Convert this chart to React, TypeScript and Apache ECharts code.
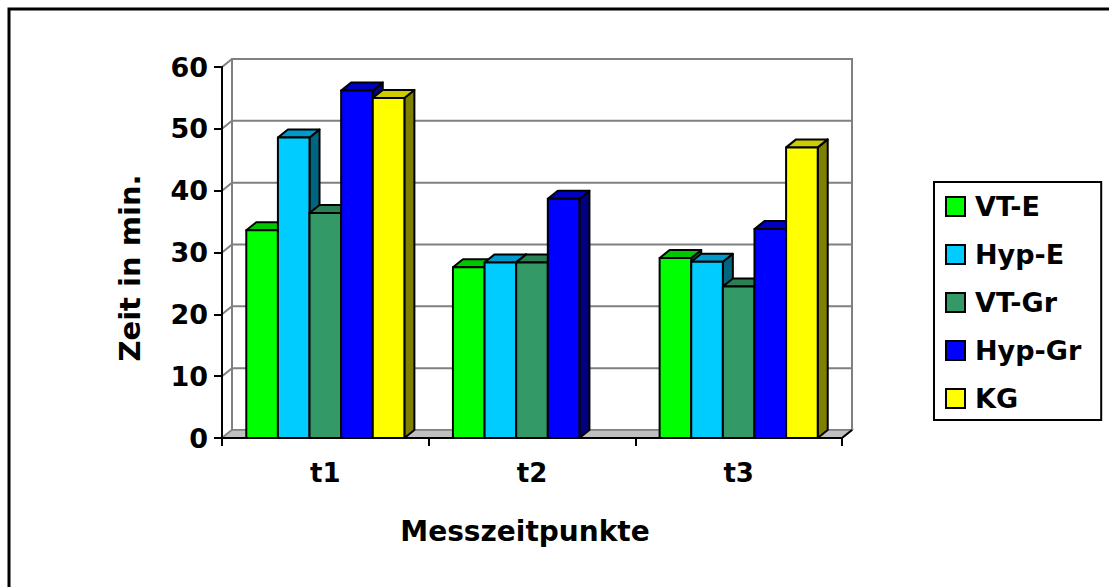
import React, { useEffect, useRef } from "react";
import * as echarts from "echarts";

// Measurement times
const categories = ["t1", "t2", "t3"];

// Time in minutes per group (null = no value)
const vtE = [33.6, 27.6, 29.1];
const hypE = [48.6, 28.4, 28.5];
const vtGr = [36.4, 28.4, 24.5];
const hypGr = [56.2, 38.7, 33.8];
const kg: (number | null)[] = [55.0, null, 47.0];

const seriesNames = ["VT-E", "Hyp-E", "VT-Gr", "Hyp-Gr", "KG"];
const seriesValues = [vtE, hypE, vtGr, hypGr, kg];

// front / top / side face colours for each series
const faceColors = [
  ["#00ff00", "#00c800", "#008000"],
  ["#00ccff", "#0099cc", "#006680"],
  ["#339966", "#2a7f55", "#1a4d33"],
  ["#0000ff", "#0000c0", "#000080"],
  ["#ffff00", "#cccc00", "#808000"],
];

const yTicks = [0, 10, 20, 30, 40, 50, 60];

const FONT = "DejaVu Sans";
const DX = 10; // depth offset, x
const DY = -8; // depth offset, y
const GROUP_RATIO = 0.765;

export default function App() {
  const ref = useRef<HTMLDivElement>(null);

  useEffect(() => {
    if (!ref.current) return;
    const chart = echarts.init(ref.current, null, { renderer: "svg" });

    const wallSeries = {
      type: "custom",
      name: "__wall",
      z: 1,
      silent: true,
      data: [[0]],
      renderItem: (params: any, api: any) => {
        const cs = params.coordSys;
        const left = cs.x;
        const right = cs.x + cs.width;
        const y0 = api.coord([0, 0])[1];
        const yTop = api.coord([0, yTicks[yTicks.length - 1]])[1];
        const children: any[] = [];
        // back wall
        children.push({
          type: "rect",
          shape: { x: left + DX, y: yTop + DY, width: cs.width, height: y0 - yTop },
          style: { fill: "#ffffff", stroke: "#808080", lineWidth: 2 },
        });
        // gridlines across the side and back walls
        yTicks.forEach((t) => {
          const y = api.coord([0, t])[1];
          children.push({
            type: "polyline",
            shape: {
              points: [
                [left, y],
                [left + DX, y + DY],
                [right + DX, y + DY],
              ],
            },
            style: { fill: "none", stroke: "#808080", lineWidth: 2 },
          });
        });
        // right edge of the back wall
        children.push({
          type: "line",
          shape: { x1: right + DX, y1: yTop + DY, x2: right + DX, y2: y0 + DY },
          style: { stroke: "#808080", lineWidth: 2 },
        });
        // floor
        children.push({
          type: "polygon",
          shape: {
            points: [
              [left, y0],
              [right, y0],
              [right + DX, y0 + DY],
              [left + DX, y0 + DY],
            ],
          },
          style: { fill: "#c0c0c0", stroke: "#808080", lineWidth: 1.5 },
        });
        children.push({
          type: "line",
          shape: { x1: right, y1: y0, x2: right + DX, y2: y0 + DY },
          style: { stroke: "#000000", lineWidth: 2 },
        });
        return { type: "group", children };
      },
    };

    const barSeries = seriesNames.map((name, si) => {
      const [front, top, side] = faceColors[si];
      const data = seriesValues[si]
        .map((v, ci) => (v == null ? null : [ci, v]))
        .filter((d) => d != null);
      return {
        type: "custom",
        name,
        z: 3,
        itemStyle: { color: front },
        data,
        renderItem: (params: any, api: any) => {
          const ci = api.value(0);
          const v = api.value(1);
          const base = api.coord([ci, 0]);
          const tp = api.coord([ci, v]);
          const band = api.size([1, 0])[0];
          const groupW = band * GROUP_RATIO;
          const bw = groupW / seriesNames.length;
          const x0 = base[0] - groupW / 2 + si * bw;
          const x1 = x0 + bw;
          const yt = tp[1];
          const yb = base[1];
          const edge = { stroke: "#000000", lineWidth: 2, lineJoin: "round" };
          return {
            type: "group",
            children: [
              {
                type: "polygon",
                shape: {
                  points: [
                    [x1, yt],
                    [x1 + DX, yt + DY],
                    [x1 + DX, yb + DY],
                    [x1, yb],
                  ],
                },
                style: { fill: side, ...edge },
              },
              {
                type: "polygon",
                shape: {
                  points: [
                    [x0, yt],
                    [x0 + DX, yt + DY],
                    [x1 + DX, yt + DY],
                    [x1, yt],
                  ],
                },
                style: { fill: top, ...edge },
              },
              {
                type: "rect",
                shape: { x: x0, y: yt, width: bw, height: yb - yt },
                style: { fill: front, ...edge },
              },
            ],
          };
        },
      };
    });

    chart.setOption({
      animation: false,
      backgroundColor: "#ffffff",
      grid: { left: 222, top: 67, width: 620, height: 371 },
      xAxis: {
        type: "category",
        data: categories,
        z: 10,
        axisLine: { lineStyle: { color: "#000", width: 2 } },
        axisTick: { show: true, length: 8, lineStyle: { color: "#000", width: 2 } },
        axisLabel: {
          margin: 22,
          color: "#000",
          fontFamily: FONT,
          fontWeight: "bold",
          fontSize: 26,
        },
        splitLine: { show: false },
      },
      yAxis: {
        type: "value",
        min: 0,
        max: 60,
        interval: 10,
        z: 10,
        axisLine: { show: true, lineStyle: { color: "#000", width: 2 } },
        axisTick: { show: true, length: 8, lineStyle: { color: "#000", width: 2 } },
        axisLabel: {
          margin: 14,
          color: "#000",
          fontFamily: FONT,
          fontWeight: "bold",
          fontSize: 27,
        },
        splitLine: { show: false },
      },
      legend: {
        orient: "vertical",
        left: 934,
        top: 182,
        data: seriesNames,
        icon: "rect",
        itemWidth: 19,
        itemHeight: 19,
        itemGap: 21,
        padding: [11, 20, 8, 11],
        borderColor: "#000",
        borderWidth: 2,
        itemStyle: { borderColor: "#000", borderWidth: 2 },
        textStyle: {
          color: "#000",
          fontFamily: FONT,
          fontWeight: "bold",
          fontSize: 27,
          padding: [0, 0, 0, 5],
        },
        selectedMode: false,
      },
      graphic: [
        {
          type: "rect",
          silent: true,
          shape: { x: 9, y: 9, width: 2000, height: 2000 },
          style: { fill: "none", stroke: "#000", lineWidth: 3 },
        },
        {
          type: "text",
          x: 525,
          y: 531,
          style: {
            text: "Messzeitpunkte",
            font: `bold 28px "${FONT}"`,
            fill: "#000",
            align: "center",
            verticalAlign: "middle",
          },
        },
        {
          type: "text",
          x: 130,
          y: 268,
          rotation: Math.PI / 2,
          style: {
            text: "Zeit in min.",
            font: `bold 29px "${FONT}"`,
            fill: "#000",
            align: "center",
            verticalAlign: "middle",
          },
        },
      ],
      series: [wallSeries, ...barSeries],
    });

    return () => chart.dispose();
  }, []);

  return (
    <div
      ref={ref}
      style={{ position: "absolute", left: 0, top: 0, width: 1109, height: 587 }}
    />
  );
}
